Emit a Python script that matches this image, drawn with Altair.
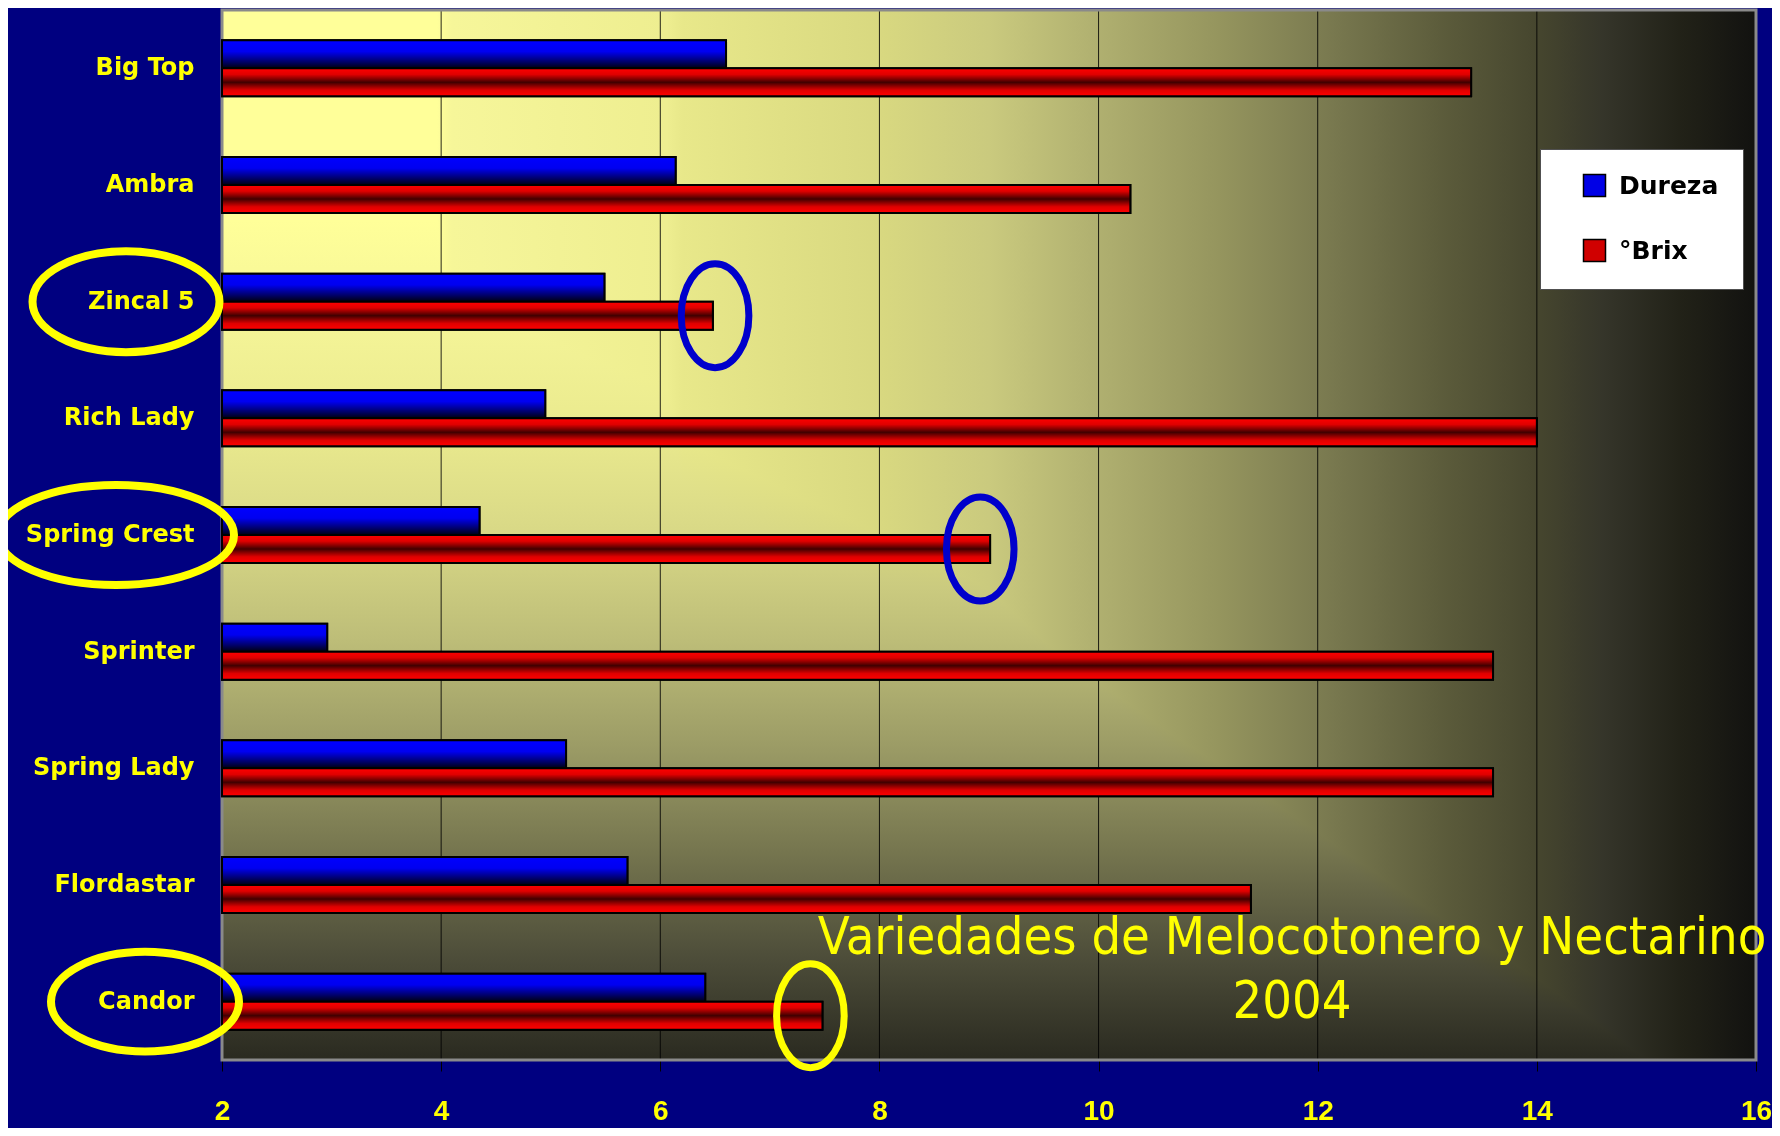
import altair as alt
import pandas as pd

# ---------------- data ----------------
varieties = ["Big Top", "Ambra", "Zincal 5", "Rich Lady", "Spring Crest",
             "Sprinter", "Spring Lady", "Flordastar", "Candor"]
dureza = [6.60, 6.14, 5.49, 4.95, 4.35, 2.96, 5.14, 5.70, 6.41]
brix = [13.40, 10.29, 6.48, 14.00, 9.01, 13.60, 13.60, 11.39, 7.48]
series = ["Dureza", "°Brix"]
x_ticks = [2, 4, 6, 8, 10, 12, 14, 16]
title_lines = ["Variedades de Melocotonero y Nectarino", "2004"]

# highlighted varieties (ellipses)
label_marks = ["Zincal 5", "Spring Crest", "Candor"]
end_marks = ["Zincal 5", "Spring Crest", "Candor"]
end_mark_x = [6.50, 8.92, 7.37]
end_mark_colors = ["#0000CC", "#0000CC", "#FFFF00"]

rows = []
for v, d, b in zip(varieties, dureza, brix):
    rows.append({"variety": v, "series": "Dureza", "value": d})
    rows.append({"variety": v, "series": "°Brix", "value": b})
df = pd.DataFrame(rows)
one = pd.DataFrame({"a": [0]})
ticks_df = pd.DataFrame({"tick": x_ticks})
ends_df = pd.DataFrame({"variety": end_marks, "cx": end_mark_x, "col": end_mark_colors})

W, H = 1534, 1050
YELLOW = "#FFFF00"
FONT = "DejaVu Sans"
COND = "DejaVu Sans Condensed, Liberation Sans Narrow, Roboto Condensed, Noto Sans"
NARROW = "Liberation Sans Narrow, Liberation Sans"

x_scale = alt.Scale(domain=[2, 16], nice=False, zero=False)
x_axis = alt.Axis(title=None, values=x_ticks, format="d", grid=False, domain=False,
                  tickColor="black", tickSize=11, tickWidth=1,
                  labelColor=YELLOW, labelFont=NARROW, labelFontSize=28,
                  labelFontWeight="bold", labelPadding=26, labelFlush=False)
y_scale = alt.Scale(domain=varieties, paddingInner=0.52, paddingOuter=0.26)
y_axis = alt.Axis(title=None, ticks=False, domain=False, labelColor=YELLOW,
                  labelFont=FONT, labelFontSize=24, labelFontWeight="bold",
                  labelPadding=28)
y_enc = alt.Y("variety:N", sort=varieties, scale=y_scale, axis=y_axis)
yoff_enc = alt.YOffset("series:N", sort=series,
                       scale=alt.Scale(domain=series, paddingInner=0, paddingOuter=0))

def grad(stops, vertical):
    return alt.LinearGradient(
        gradient="linear",
        stops=[alt.GradientStop(color=c, offset=o) for o, c in stops],
        x1=0, y1=0, x2=0 if vertical else 1, y2=1 if vertical else 0)

h_stops = [(0.0, "#FFFF99"), (0.14, "#FFFF99"), (0.15, "#F6F69A"), (0.29, "#EEEE90"),
           (0.30, "#E8E88A"), (0.43, "#D8D880"), (0.50, "#CACA7E"), (0.57, "#B0B070"),
           (0.65, "#95955E"), (0.72, "#7A7A50"), (0.80, "#5A5A3A"), (0.86, "#45452E"),
           (0.90, "#35352A"), (0.95, "#222218"), (1.0, "#121210")]
v_stops = [(0.0, "#FFFF99"), (0.20, "#FFFF99"), (0.30, "#F4F497"), (0.40, "#EAEA8E"),
           (0.50, "#D8D886"), (0.60, "#BDBD78"), (0.70, "#9C9C66"), (0.80, "#76764F"),
           (0.90, "#4E4E3A"), (1.0, "#2A2A20")]
blue_stops = [(0.0, "#0000FF"), (0.40, "#0000F0"), (0.75, "#000070"), (1.0, "#000010")]
red_stops = [(0.0, "#FF0000"), (0.22, "#E00000"), (0.5, "#400000"), (0.78, "#E00000"), (1.0, "#FF0000")]

bg_h = alt.Chart(one).mark_rect(color=grad(h_stops, False)).encode(
    x=alt.datum(2, scale=x_scale), x2=alt.datum(16), y=alt.value(0), y2=alt.value(H))
bg_v = alt.Chart(one).mark_rect(color=grad(v_stops, True), blend="darken").encode(
    x=alt.datum(2, scale=x_scale), x2=alt.datum(16), y=alt.value(0), y2=alt.value(H))

grid = alt.Chart(ticks_df).mark_rule(color="black", strokeWidth=1, opacity=0.85).encode(
    x=alt.X("tick:Q", scale=x_scale, axis=x_axis), y=alt.value(0), y2=alt.value(H))

border = alt.Chart(one).mark_rect(filled=False, stroke="#8A8A8A", strokeWidth=3).encode(
    x=alt.datum(2, scale=x_scale), x2=alt.datum(16), y=alt.value(0), y2=alt.value(H))

bars = alt.Chart(df).mark_bar(stroke="black", strokeWidth=2).encode(
    x=alt.X("value:Q", scale=x_scale, axis=x_axis),
    x2=alt.datum(2),
    y=y_enc, yOffset=yoff_enc,
    color=alt.Color("series:N", sort=series,
                    scale=alt.Scale(domain=series, range=["#0000E6", "#D00000"]),
                    legend=alt.Legend(title=None, orient="none", legendX=1318, legendY=139,
                                      fillColor="white", strokeColor="#505050",
                                      padding=24, symbolOffset=18, symbolType="square",
                                      symbolSize=484, symbolStrokeColor="black",
                                      symbolStrokeWidth=1.5, labelFont=FONT,
                                      labelFontSize=25, labelFontWeight="bold",
                                      labelColor="black", rowPadding=36, labelOffset=12)))

bars_blue = alt.Chart(df).transform_filter(alt.datum.series == "Dureza").mark_bar(
    fill=grad(blue_stops, True), stroke="black", strokeWidth=2).encode(
    x=alt.X("value:Q", scale=x_scale), x2=alt.datum(2), y=y_enc, yOffset=yoff_enc)
bars_red = alt.Chart(df).transform_filter(alt.datum.series == "°Brix").mark_bar(
    fill=grad(red_stops, True), stroke="black", strokeWidth=2).encode(
    x=alt.X("value:Q", scale=x_scale), x2=alt.datum(2), y=y_enc, yOffset=yoff_enc)

def ellipse_path(rx, ry):
    return f"M {-rx} 0 A {rx} {ry} 0 1 0 {rx} 0 A {rx} {ry} 0 1 0 {-rx} 0 Z"

end_ell = alt.Chart(ends_df).mark_point(
    shape=ellipse_path(0.65, 1), size=104 * 104, filled=False, strokeWidth=7, opacity=1).encode(
    x=alt.X("cx:Q", scale=x_scale), y=y_enc,
    yOffset=alt.datum("°Brix"),
    stroke=alt.Stroke("col:N", scale=None))

label_ell_specs = [("Zincal 5", -96, 0.54, 187), ("Spring Crest", -106, 0.424, 236), ("Candor", -77, 0.53, 188)]
label_ells = []
for name, px, ratio, w in label_ell_specs:
    label_ells.append(alt.Chart(one).mark_point(
        shape=ellipse_path(1, ratio), size=w * w, filled=False, strokeWidth=8,
        color=YELLOW, opacity=1).encode(
        x=alt.value(px), y=alt.datum(name)))

title_txt = alt.Chart(one).mark_text(
    text=title_lines, color=YELLOW, font=COND, fontSize=52, lineHeight=64,
    align="center", baseline="middle").encode(x=alt.value(1070), y=alt.value(928))

chart = alt.layer(bg_h, bg_v, grid, border, bars, bars_blue, bars_red, end_ell,
                  *label_ells, title_txt).properties(
    width=W, height=H,
    autosize=alt.AutoSizeParams(type="none"),
    padding={"left": 214, "top": 2, "right": 16, "bottom": 68},
    background="#000080",
).configure_view(strokeWidth=0)

chart.save("out.html", embed_options={"renderer": "svg", "actions": False})
